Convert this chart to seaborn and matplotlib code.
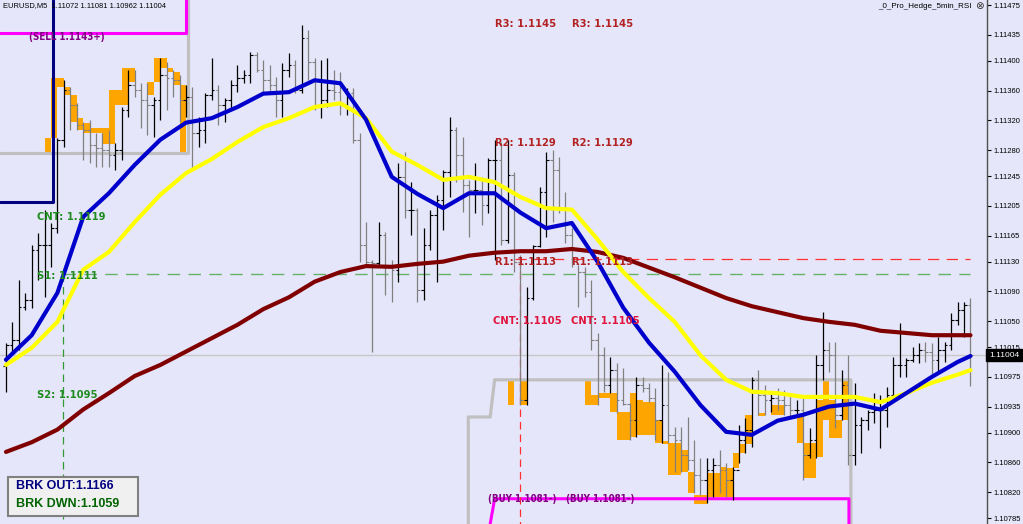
import matplotlib
matplotlib.use("Agg")
import matplotlib.pyplot as plt
from matplotlib import font_manager
from matplotlib.patches import Rectangle
import matplotlib.transforms as mtransforms
import seaborn as sns

# ---- OHLC bars (EURUSD M5) ----
first_open = 1.10990
highs = [1.11021, 1.11049, 1.11105, 1.11088, 1.11152, 1.11169, 1.11199, 1.11182, 1.11296, 1.11374,
         1.11365, 1.11343, 1.11318, 1.11321, 1.11303, 1.11303, 1.11307, 1.11290, 1.11338, 1.11388,
         1.11388, 1.11370, 1.11370, 1.11351, 1.11404, 1.11399, 1.11388, 1.11381, 1.11368, 1.11365,
         1.11325, 1.11357, 1.11404, 1.11368, 1.11350, 1.11374, 1.11395, 1.11388, 1.11412, 1.11412,
         1.11401, 1.11395, 1.11378, 1.11397, 1.11411, 1.11401, 1.11448, 1.11442, 1.11404, 1.11401,
         1.11404, 1.11388, 1.11385, 1.11364, 1.11364, 1.11303, 1.11183, 1.11132, 1.11183, 1.11170,
         1.11132, 1.11263, 1.11278, 1.11237, 1.11202, 1.11175, 1.11200, 1.11220, 1.11253, 1.11325,
         1.11311, 1.11298, 1.11240, 1.11263, 1.11244, 1.11270, 1.11294, 1.11291, 1.11294, 1.11251,
         1.11139, 1.11096, 1.11152, 1.11231, 1.11278, 1.11280, 1.11271, 1.11224, 1.11175, 1.11126,
         1.11123, 1.11105, 1.11034, 1.11015, 1.11002, 1.10994, 1.10987, 1.10940, 1.10975, 1.10975,
         1.10967, 1.10960, 1.10991, 1.10982, 1.10908, 1.10908, 1.10921, 1.10890, 1.10866, 1.10866,
         1.10866, 1.10877, 1.10859, 1.10854, 1.10910, 1.10920, 1.10975, 1.10984, 1.10964, 1.10953,
         1.10960, 1.10957, 1.10953, 1.10944, 1.10951, 1.10906, 1.11004, 1.11062, 1.11022, 1.11022,
         1.10984, 1.11004, 1.10967, 1.10921, 1.10930, 1.10953, 1.10951, 1.10961, 1.11002, 1.11048,
         1.11000, 1.11015, 1.11021, 1.11022, 1.11021, 1.11029, 1.11022, 1.11061, 1.11076, 1.11076,
         1.11081]
lows = [1.10955, 1.11009, 1.11011, 1.11065, 1.11068, 1.11105, 1.11082, 1.11123, 1.11169, 1.11284,
        1.11307, 1.11307, 1.11267, 1.11263, 1.11257, 1.11257, 1.11257, 1.11253, 1.11267, 1.11325,
        1.11351, 1.11310, 1.11300, 1.11298, 1.11321, 1.11334, 1.11351, 1.11318, 1.11325, 1.11256,
        1.11284, 1.11290, 1.11347, 1.11314, 1.11318, 1.11334, 1.11358, 1.11370, 1.11370, 1.11385,
        1.11357, 1.11357, 1.11325, 1.11325, 1.11378, 1.11357, 1.11357, 1.11374, 1.11334, 1.11323,
        1.11338, 1.11347, 1.11327, 1.11327, 1.11290, 1.11130, 1.11123, 1.11009, 1.11123, 1.11085,
        1.11076, 1.11103, 1.11189, 1.11166, 1.11076, 1.11079, 1.11146, 1.11103, 1.11173, 1.11217,
        1.11237, 1.11197, 1.11163, 1.11196, 1.11179, 1.11196, 1.11132, 1.11152, 1.11155, 1.11116,
        1.10937, 1.10937, 1.11079, 1.11150, 1.11163, 1.11183, 1.11196, 1.11155, 1.11123, 1.11069,
        1.11083, 1.11011, 1.10937, 1.10955, 1.10953, 1.10926, 1.10937, 1.10890, 1.10894, 1.10955,
        1.10941, 1.10890, 1.10886, 1.10886, 1.10847, 1.10847, 1.10850, 1.10819, 1.10816, 1.10805,
        1.10813, 1.10819, 1.10813, 1.10809, 1.10859, 1.10873, 1.10881, 1.10924, 1.10924, 1.10928,
        1.10930, 1.10924, 1.10921, 1.10921, 1.10836, 1.10866, 1.10866, 1.10971, 1.10982, 1.10906,
        1.10917, 1.10857, 1.10857, 1.10873, 1.10904, 1.10913, 1.10879, 1.10908, 1.10944, 1.10975,
        1.10975, 1.10995, 1.10994, 1.10995, 1.10978, 1.10980, 1.10995, 1.11011, 1.11045, 1.11029,
        1.10962]
closes = [1.11018, 1.11025, 1.11069, 1.11078, 1.11146, 1.11152, 1.11152, 1.11175, 1.11294, 1.11361,
          1.11341, 1.11314, 1.11307, 1.11287, 1.11283, 1.11280, 1.11273, 1.11280, 1.11334, 1.11368,
          1.11361, 1.11347, 1.11341, 1.11347, 1.11381, 1.11377, 1.11374, 1.11347, 1.11351, 1.11303,
          1.11307, 1.11354, 1.11361, 1.11341, 1.11347, 1.11368, 1.11377, 1.11381, 1.11408, 1.11388,
          1.11374, 1.11368, 1.11347, 1.11388, 1.11395, 1.11361, 1.11431, 1.11399, 1.11341, 1.11347,
          1.11361, 1.11358, 1.11341, 1.11357, 1.11294, 1.11152, 1.11130, 1.11128, 1.11166, 1.11123,
          1.11119, 1.11244, 1.11200, 1.11200, 1.11092, 1.11152, 1.11193, 1.11213, 1.11251, 1.11307,
          1.11273, 1.11233, 1.11226, 1.11226, 1.11206, 1.11267, 1.11267, 1.11159, 1.11247, 1.11130,
          1.10944, 1.11081, 1.11151, 1.11224, 1.11267, 1.11253, 1.11202, 1.11166, 1.11127, 1.11116,
          1.11089, 1.11025, 1.11004, 1.10964, 1.10984, 1.10944, 1.10939, 1.10917, 1.10964, 1.10960,
          1.10947, 1.10917, 1.10937, 1.10897, 1.10890, 1.10870, 1.10863, 1.10843, 1.10836, 1.10850,
          1.10857, 1.10850, 1.10836, 1.10850, 1.10890, 1.10904, 1.10971, 1.10951, 1.10944, 1.10947,
          1.10944, 1.10937, 1.10930, 1.10930, 1.10870, 1.10890, 1.10991, 1.11011, 1.11004, 1.10924,
          1.10964, 1.10870, 1.10910, 1.10917, 1.10928, 1.10930, 1.10930, 1.10951, 1.10991, 1.10991,
          1.10998, 1.11004, 1.11011, 1.11009, 1.10998, 1.11011, 1.11018, 1.11051, 1.11065, 1.11072,
          1.11004]

# ---- moving averages, read every 4 bars ----
ma_bars = [0, 4, 8, 12, 16, 20, 24, 28, 32, 36, 40, 44, 48, 52, 56, 60, 64, 68, 72, 76,
           80, 84, 88, 92, 96, 100, 104, 108, 112, 116, 120, 124, 128, 132, 136, 140, 144, 148, 150]
ma_fast = [1.10998, 1.11031, 1.11088, 1.11190, 1.11222, 1.11260, 1.11294, 1.11317, 1.11323, 1.11338,
           1.11356, 1.11358, 1.11374, 1.11370, 1.11321, 1.11244, 1.11221, 1.11202, 1.11222, 1.11222,
           1.11196, 1.11175, 1.11182, 1.11130, 1.11068, 1.11021, 1.10982, 1.10937, 1.10901, 1.10897,
           1.10916, 1.10924, 1.10935, 1.10939, 1.10931, 1.10953, 1.10975, 1.10995, 1.11003]
ma_mid = [1.10991, 1.11014, 1.11049, 1.11119, 1.11143, 1.11183, 1.11220, 1.11249, 1.11268, 1.11291,
          1.11311, 1.11323, 1.11338, 1.11343, 1.11323, 1.11278, 1.11260, 1.11240, 1.11244, 1.11237,
          1.11217, 1.11202, 1.11200, 1.11160, 1.11116, 1.11081, 1.11049, 1.11004, 1.10971, 1.10955,
          1.10953, 1.10948, 1.10948, 1.10948, 1.10941, 1.10953, 1.10967, 1.10978, 1.10984]
ma_slow = [1.10874, 1.10887, 1.10904, 1.10931, 1.10953, 1.10976, 1.10991, 1.11009, 1.11027, 1.11045,
           1.11066, 1.11082, 1.11103, 1.11116, 1.11124, 1.11123, 1.11127, 1.11130, 1.11138, 1.11142,
           1.11144, 1.11144, 1.11147, 1.11143, 1.11135, 1.11122, 1.11109, 1.11095, 1.11081, 1.11070,
           1.11062, 1.11054, 1.11049, 1.11045, 1.11037, 1.11034, 1.11031, 1.11031, 1.11031]

# ---- orange hedge blocks ----
orange_start = [6, 7, 8, 9, 10, 11, 12, 13, 14, 15, 16, 17, 18, 19, 22, 23, 24, 25, 26, 27,
                78, 80, 90, 91, 92, 93, 94, 95, 96, 97, 98, 99, 100, 101, 102, 103, 104, 105,
                106, 107, 108, 109, 110, 111, 112, 113, 114, 115, 117, 119, 120, 123, 124, 125,
                126, 127, 128, 129, 130]
orange_low = [1.11278, 1.11296, 1.11365, 1.11354, 1.11318, 1.11307, 1.11303, 1.11303, 1.11303, 1.11288,
              1.11288, 1.11341, 1.11341, 1.11372, 1.11354, 1.11372, 1.11391, 1.11385, 1.11368, 1.11278,
              1.10937, 1.10937, 1.10937, 1.10937, 1.10947, 1.10947, 1.10928, 1.10890, 1.10890, 1.10894,
              1.10897, 1.10897, 1.10897, 1.10886, 1.10885, 1.10843, 1.10843, 1.10847, 1.10819, 1.10804,
              1.10804, 1.10813, 1.10813, 1.10813, 1.10813, 1.10853, 1.10873, 1.10884, 1.10922, 1.10924,
              1.10924, 1.10886, 1.10839, 1.10839, 1.10867, 1.10917, 1.10893, 1.10893, 1.10917]
orange_high = [1.11296, 1.11377, 1.11377, 1.11365, 1.11354, 1.11323, 1.11317, 1.11310, 1.11310, 1.11310,
               1.11361, 1.11361, 1.11391, 1.11391, 1.11372, 1.11404, 1.11404, 1.11391, 1.11385, 1.11368,
               1.10971, 1.10971, 1.10971, 1.10951, 1.10953, 1.10953, 1.10953, 1.10928, 1.10928, 1.10953,
               1.10944, 1.10941, 1.10941, 1.10917, 1.10888, 1.10886, 1.10886, 1.10877, 1.10847, 1.10816,
               1.10816, 1.10846, 1.10846, 1.10854, 1.10853, 1.10873, 1.10884, 1.10924, 1.10926, 1.10937,
               1.10937, 1.10921, 1.10886, 1.10886, 1.10944, 1.10971, 1.10944, 1.10917, 1.10971]

# ---- indicator levels ----
box_top_level = 1.11276
box_low_levels = [1.10921, 1.10971]
sell_level = 1.11438
buy_level = 1.10811
brk_level = 1.11210
r1_line = 1.11133
s1_line = 1.11114
pivot_red = [("R3: 1.1145", 1.1145), ("R2: 1.1129", 1.1129), ("R1: 1.1113", 1.1113)]
cnt_red = ("CNT: 1.1105", 1.1105)
pivot_green = [("CNT: 1.1119", 1.1119), ("S1: 1.1111", 1.1111), ("S2: 1.1095", 1.1095), ("S3: 1.1079", 1.1079)]
price_ticks = [1.11475, 1.11435, 1.11400, 1.11360, 1.11320, 1.11280, 1.11245, 1.11205, 1.11165, 1.11130,
               1.11090, 1.11050, 1.11015, 1.10975, 1.10935, 1.10900, 1.10860, 1.10820, 1.10785]
last_price = 1.11004

bg = "#E6E6FA"
sns.set_style("white", {"axes.facecolor": bg, "figure.facecolor": bg})
plt.rcParams["font.family"] = ["Liberation Sans", "DejaVu Sans"]

# a condensed bold face for the pivot labels if one is installed
fonts = font_manager.fontManager.ttflist
if any(f.name == "Liberation Sans Narrow" for f in fonts):
    lab_font = dict(family="Liberation Sans Narrow", fontsize=9)
    small_size = 8
elif any(f.name == "DejaVu Sans" and f.stretch == "condensed" for f in fonts):
    lab_font = dict(family="DejaVu Sans", fontstretch="condensed", fontsize=8)
    small_size = 7
else:
    lab_font = dict(family="Liberation Sans", fontsize=7.6)
    small_size = 6.6

y_top, y_bot = 1.11482, 1.10777
x_lo, x_hi = -0.93, 152.57

fig = plt.figure(figsize=(10.23, 5.24), dpi=100, facecolor=bg)
ax = fig.add_axes([0, 0, 987 / 1023, 1])
ax.set_facecolor(bg)

# orange blocks
ax.bar(orange_start, [h - l for h, l in zip(orange_high, orange_low)], bottom=orange_low,
       width=1, align="edge", color="#FFA500", linewidth=0, zorder=1)

# stepped gray boxes
ax.plot([x_lo, 28.3, 28.3], [box_top_level, box_top_level, y_top], color="#C0C0C0", lw=2.3, zorder=2)
ax.plot([71.9, 71.9, 75.3, 76.0, 131.4, 131.4],
        [y_bot, box_low_levels[0], box_low_levels[0], box_low_levels[1], box_low_levels[1], y_bot],
        color="#C0C0C0", lw=2.3, zorder=2)
# sell / buy lines
ax.plot([x_lo, 28.0, 28.0], [sell_level, sell_level, y_top], color="#FF00FF", lw=2.2, zorder=2)
ax.plot([75.3, 76.0, 131.1, 131.1], [y_bot, buy_level, buy_level, y_bot], color="#FF00FF", lw=2.2, zorder=2)
# breakout line
ax.plot([x_lo, 7.3, 7.3], [brk_level, brk_level, y_top], color="#000080", lw=2.2, zorder=4)

# current price line
ax.axhline(last_price, color="#C8C8C8", lw=1, zorder=0.5)

# dashed pivot lines
ax.plot([79.2, 150], [r1_line, r1_line], color="#FF3030", lw=0.9, dashes=(9, 6), zorder=2.5)
ax.plot([80, 80], [r1_line, y_bot], color="#FF3030", lw=0.9, dashes=(6, 4), zorder=2.5)
ax.plot([8.8, 150], [s1_line, s1_line], color="#66B266", lw=1.0, dashes=(9, 6), zorder=2.5)
ax.plot([8.8, 8.8], [s1_line, y_bot], color="#339933", lw=0.9, dashes=(6, 4), zorder=2.5)

# bars
idx = list(range(len(highs)))
opens = [first_open] + closes[:-1]
cols = ["#000000" if c >= o else "#808080" for o, c in zip(opens, closes)]
ax.vlines(idx, lows, highs, colors=cols, linewidth=0.9, zorder=3)
ax.hlines(opens, [i - 0.4 for i in idx], idx, colors=cols, linewidth=0.8, zorder=3)
ax.hlines(closes, idx, [i + 0.4 for i in idx], colors=cols, linewidth=0.8, zorder=3)

# moving averages
sns.lineplot(x=ma_bars, y=ma_slow, ax=ax, color="#800000", linewidth=3, zorder=5, estimator=None)
sns.lineplot(x=ma_bars, y=ma_mid, ax=ax, color="#FFFF00", linewidth=3, zorder=5, estimator=None)
sns.lineplot(x=ma_bars, y=ma_fast, ax=ax, color="#0000CD", linewidth=3, zorder=5, estimator=None)

# labels
lab = dict(fontweight="bold", va="center", ha="left", zorder=6, **lab_font)
lab_small = dict(lab, fontsize=small_size)
for x0 in (76.0, 88.1):
    for txt, lv in pivot_red:
        ax.text(x0, lv, txt, color="#B22222", **lab)
    ax.text(x0 - 0.3, cnt_red[1], cnt_red[0], color="#E0143C", **lab)
    ax.text(x0 - 1.0, buy_level, "(BUY 1.1081-)", color="#800080", **lab_small)
for txt, lv in pivot_green:
    ax.text(4.9, lv, txt, color="#1E8C1E", **lab)
ax.text(3.6, 1.11432, "(SELL 1.1143+)", color="#800080", **lab_small)

# breakout info box
ax.add_patch(Rectangle((8 / 987, 8 / 524), 130 / 987, 39 / 524, transform=ax.transAxes,
                       facecolor="#F0F0F0", edgecolor="#808080", lw=1.5, zorder=7))
ax.text(16 / 987, 38 / 524, "BRK OUT:1.1166", transform=ax.transAxes, color="#000080",
        fontsize=9, fontweight="bold", va="center", zorder=8)
ax.text(16 / 987, 20 / 524, "BRK DWN:1.1059", transform=ax.transAxes, color="#006400",
        fontsize=9, fontweight="bold", va="center", zorder=8)

# header texts
ax.text(3 / 987, 1 - 6 / 524, "EURUSD,M5  1.11072 1.11081 1.10962 1.11004", transform=ax.transAxes,
        fontsize=5.4, va="center", ha="left", color="black", zorder=8)
ax.text(972 / 987, 1 - 6 / 524, "_0_Pro_Hedge_5min_RSI", transform=ax.transAxes,
        fontsize=5.8, va="center", ha="right", color="black", zorder=8)
ax.text(979 / 987, 1 - 6 / 524, "\u2297", transform=ax.transAxes, family="DejaVu Sans",
        fontsize=7.5, va="center", ha="center", color="#333333", zorder=8)

# axes
ax.set_xlim(x_lo, x_hi)
ax.set_ylim(y_bot, y_top)
ax.set_xticks([])
ax.yaxis.tick_right()
ax.set_yticks(price_ticks)
ax.set_yticklabels([f"{t:.5f}" for t in price_ticks])
ax.tick_params(axis="y", length=3, width=0.8, pad=2, labelsize=5.5, colors="black")
for s in ("top", "left", "bottom"):
    ax.spines[s].set_visible(False)
ax.spines["right"].set_color("#505050")
ax.spines["right"].set_linewidth(1)
ax.set_xlabel("")
ax.set_ylabel("")

tr = mtransforms.blended_transform_factory(ax.transAxes, ax.transData)
ax.text(1.002, last_price, "1.11004", transform=tr, fontsize=6, color="white", va="center", ha="left",
        bbox=dict(boxstyle="square,pad=0.3", facecolor="black", edgecolor="black"), zorder=9, clip_on=False)

fig.savefig("out.png", dpi=100, facecolor=bg)
